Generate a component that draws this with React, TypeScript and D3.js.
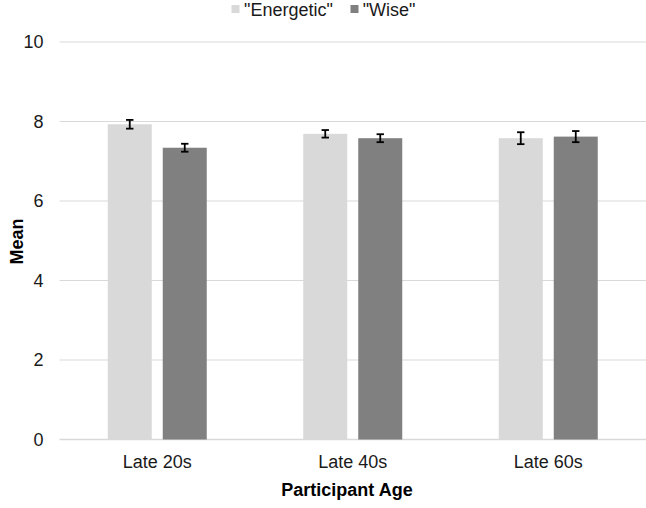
import React from "react";
import * as d3 from "d3";

const categories = ["Late 20s", "Late 40s", "Late 60s"];
const seriesNames = ['"Energetic"', '"Wise"'];
const energetic = [7.93, 7.69, 7.58];
const wise = [7.34, 7.58, 7.62];
const energeticErr = [0.11, 0.095, 0.15];
const wiseErr = [0.1, 0.1, 0.14];
const yTicks = [0, 2, 4, 6, 8, 10];

const W = 646;
const H = 508;
const FONT = "'Liberation Sans', Arial, sans-serif";
const colors = ["#d9d9d9", "#808080"];

export default function App() {
  const x0 = d3
    .scaleBand<string>()
    .domain(categories)
    .range([59.5, 646])
    .paddingInner(0.4936)
    .paddingOuter(0.2468);
  const x1 = d3
    .scaleBand<string>()
    .domain(seriesNames)
    .range([0, x0.bandwidth()])
    .paddingInner(0.2)
    .paddingOuter(0);
  const y = d3.scaleLinear().domain([0, 10]).range([439.5, 42]);

  const series = [
    { name: seriesNames[0], values: energetic, errs: energeticErr, color: colors[0] },
    { name: seriesNames[1], values: wise, errs: wiseErr, color: colors[1] },
  ];

  const capHalf = 3.7;

  return (
    <svg
      width={W}
      height={H}
      style={{ position: "absolute", left: 0, top: 0, background: "#fff" }}
      fontFamily={FONT}
    >
      <rect x={0} y={0} width={W} height={H} fill="#fff" />
      {/* gridlines */}
      {yTicks.map((t) => (
        <line
          key={"g" + t}
          x1={59.5}
          x2={646}
          y1={y(t)}
          y2={y(t)}
          stroke="#d9d9d9"
          strokeWidth={t === 0 ? 1.5 : 1}
        />
      ))}
      {/* y tick labels */}
      {yTicks.map((t) => (
        <text
          key={"t" + t}
          x={43.5}
          y={y(t)}
          dy="0.35em"
          textAnchor="end"
          fontSize={18}
          fill="#1a1a1a"
        >
          {t}
        </text>
      ))}
      {/* bars */}
      {series.map((s) =>
        categories.map((c, i) => {
          const bx = (x0(c) || 0) + (x1(s.name) || 0);
          return (
            <rect
              key={s.name + c}
              x={bx}
              y={y(s.values[i])}
              width={x1.bandwidth()}
              height={y(0) - y(s.values[i])}
              fill={s.color}
            />
          );
        })
      )}
      {/* error bars */}
      {series.map((s) =>
        categories.map((c, i) => {
          const cx = (x0(c) || 0) + (x1(s.name) || 0) + x1.bandwidth() / 2;
          const top = y(s.values[i] + s.errs[i]);
          const bot = y(s.values[i] - s.errs[i]);
          return (
            <g key={"e" + s.name + c} stroke="#000" strokeWidth={1.8}>
              <line x1={cx} x2={cx} y1={top} y2={bot} />
              <line x1={cx - capHalf} x2={cx + capHalf} y1={top} y2={top} />
              <line x1={cx - capHalf} x2={cx + capHalf} y1={bot} y2={bot} />
            </g>
          );
        })
      )}
      {/* category labels */}
      {categories.map((c) => (
        <text
          key={"c" + c}
          x={(x0(c) || 0) + x0.bandwidth() / 2}
          y={468.3}
          textAnchor="middle"
          fontSize={18}
          fill="#1a1a1a"
        >
          {c}
        </text>
      ))}
      {/* axis titles */}
      <text x={347} y={495.5} textAnchor="middle" fontSize={18} fontWeight="bold" fill="#000">
        Participant Age
      </text>
      <text
        transform={`translate(23,241.5) rotate(-90)`}
        textAnchor="middle"
        fontSize={18}
        fontWeight="bold"
        fill="#000"
      >
        Mean
      </text>
      {/* legend */}
      <rect x={231.5} y={5} width={8} height={8} fill={colors[0]} />
      <text x={244} y={16} fontSize={18} fill="#1a1a1a">
        {seriesNames[0]}
      </text>
      <rect x={350.5} y={5} width={8} height={8} fill={colors[1]} />
      <text x={362.7} y={16} fontSize={18} fill="#1a1a1a">
        {seriesNames[1]}
      </text>
    </svg>
  );
}
